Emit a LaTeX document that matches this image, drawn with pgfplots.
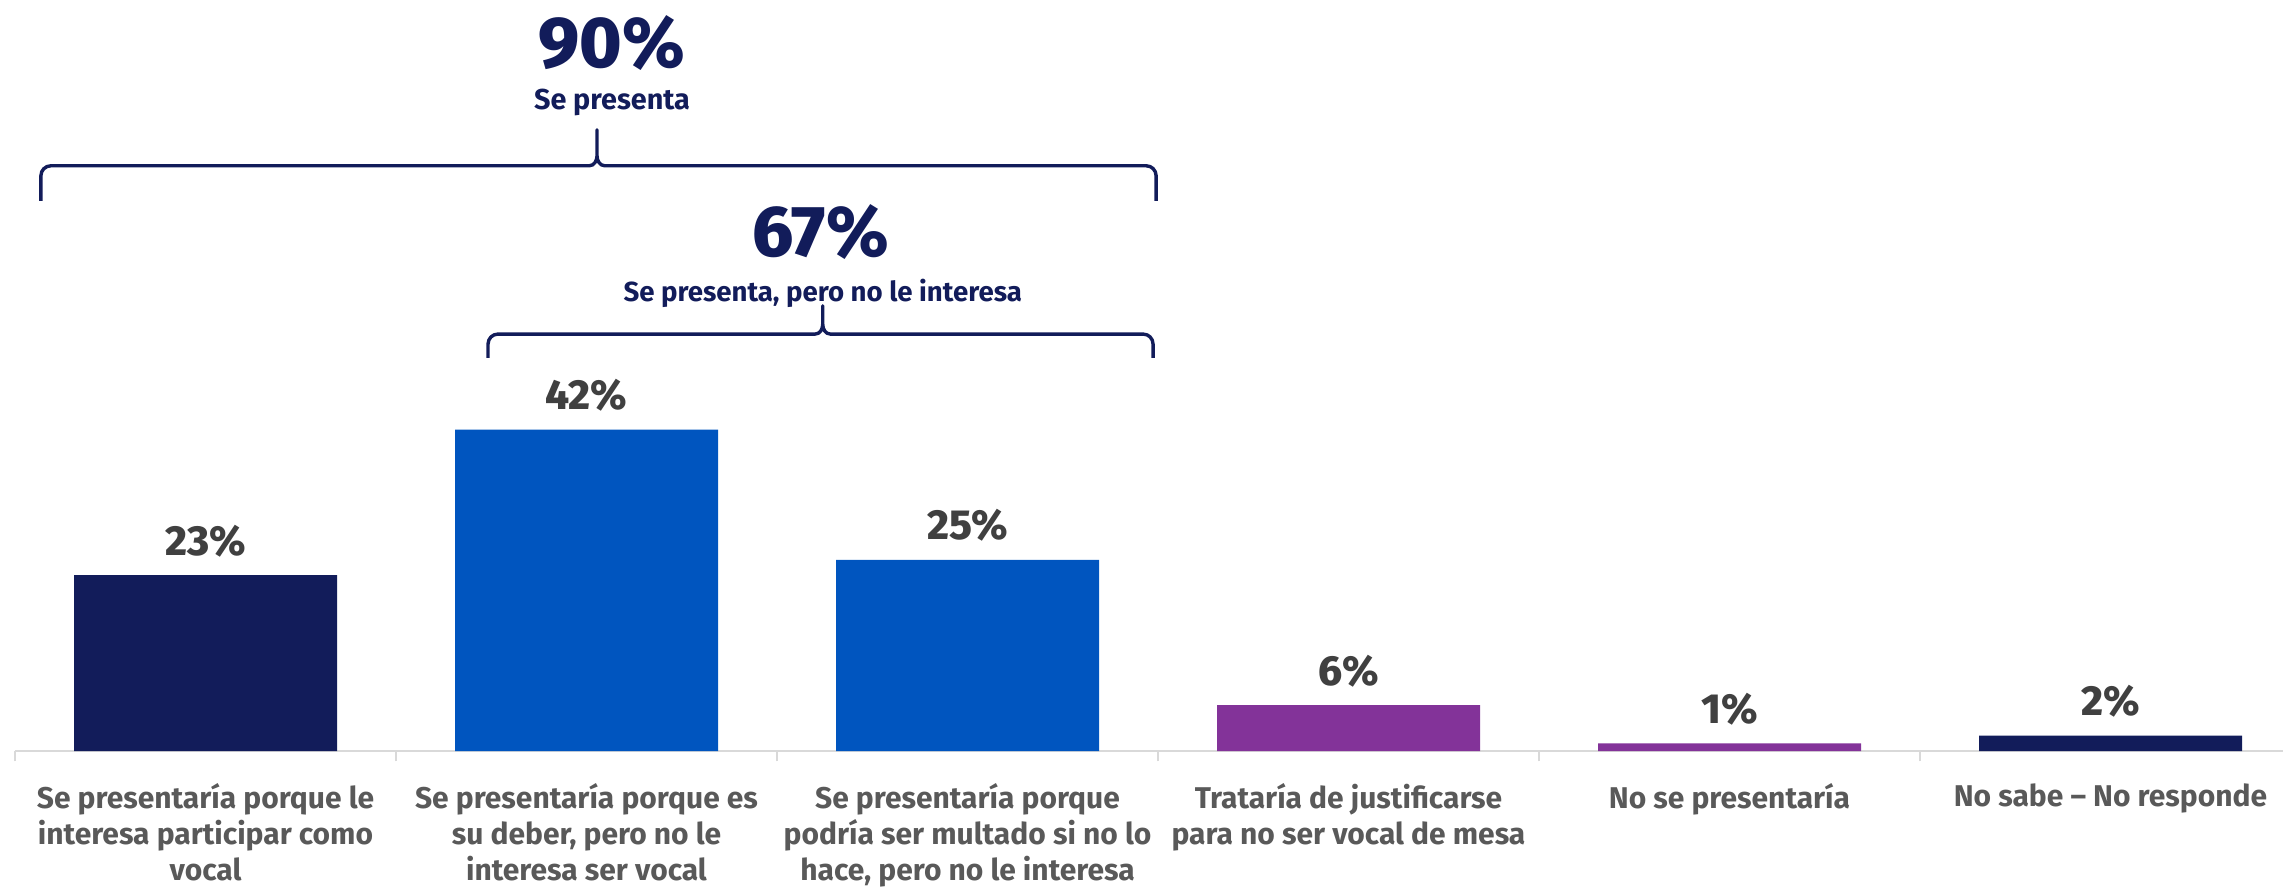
\documentclass[border=0pt]{standalone}
\usepackage{pgfplots}
\pgfplotsset{compat=1.18}
\usepackage{fontspec}
\setmainfont{Fira Sans}
\IfFontExistsTF{Fira Sans ExtraBold}
  {\newfontfamily\heavy{Fira Sans ExtraBold}}
  {\newcommand\heavy{\bfseries}}

\definecolor{navy}{HTML}{121C5A}
\definecolor{azul}{HTML}{0055BF}
\definecolor{morado}{HTML}{833399}
\definecolor{valgray}{HTML}{404040}
\definecolor{labgray}{HTML}{595959}
\definecolor{axgray}{HTML}{D9D9D9}

\begin{document}
\begin{tikzpicture}
\begin{axis}[
    x=95.25pt, y=1.9125pt,
    xmin=-0.5, xmax=5.4528, ymin=0, ymax=98.17,
    ybar, bar width=65.75pt, bar shift=0pt,
    axis x line=bottom, axis y line=none,
    x axis line style={draw=axgray, line width=0.6pt, -},
    xtick={0,...,5},
    xticklabels={
        {Se presentaría porque le\\interesa participar como\\vocal},
        {Se presentaría porque es\\su deber, pero no le\\interesa ser vocal},
        {Se presentaría porque\\podría ser multado si no lo\\hace, pero no le interesa},
        {Trataría de justificarse\\para no ser vocal de mesa},
        {No se presentaría},
        {No sabe – No responde}},
    minor xtick={-0.5,0.5,...,4.5},
    major tick length=0pt, minor tick length=2.6pt,
    tick align=outside,
    minor tick style={draw=axgray, line width=0.6pt},
    xticklabel style={font=\fontsize{7.5}{9}\selectfont\bfseries, text=labgray,
        align=center, anchor=north, yshift=-4.6pt},
    ytick=\empty,
    /pgf/number format/assume math mode=true,
    nodes near coords={\pgfmathprintnumber{\pgfplotspointmeta}\%},
    every node near coord/.append style={font=\fontsize{10.5}{12}\selectfont\heavy,
        text=valgray, anchor=base, yshift=5pt},
    clip=false,
]
\addplot[fill=navy, draw=none] coordinates {(0,23) (5,2)};
\addplot[fill=azul, draw=none] coordinates {(1,42) (2,25)};
\addplot[fill=morado, draw=none] coordinates {(3,6) (4,1)};

% llave superior: 90%
\draw[navy, line width=0.85pt, line join=round]
    (-0.432,71.9) -- (-0.432,75.2) to[out=90,in=180] (-0.406,76.5)
    -- (1.007,76.5) to[out=0,in=-90] (1.0276,77.8) -- (1.0276,81.2)
    -- (1.0276,77.8) to[out=-90,in=180] (1.048,76.5)
    -- (2.469,76.5) to[out=0,in=90] (2.495,75.2) -- (2.495,71.9);
\node[navy, anchor=base, font=\fontsize{18}{19}\selectfont\heavy] at (1.067,89.4) {90\%};
\node[navy, anchor=base, font=\fontsize{7.2}{9}\selectfont\bfseries] at (1.067,83.9) {Se presenta};

% llave inferior: 67%
\draw[navy, line width=0.85pt, line join=round]
    (0.7415,51.4) -- (0.7415,53.2) to[out=90,in=180] (0.7675,54.5)
    -- (1.600,54.5) to[out=0,in=-90] (1.620,55.8) -- (1.620,58.2)
    -- (1.620,55.8) to[out=-90,in=180] (1.640,54.5)
    -- (2.461,54.5) to[out=0,in=90] (2.487,53.2) -- (2.487,51.4);
\node[navy, anchor=base, font=\fontsize{18}{19}\selectfont\heavy] at (1.615,64.6) {67\%};
\node[navy, anchor=base, font=\fontsize{6.9}{9}\selectfont\bfseries] at (1.62,58.7) {Se presenta, pero no le interesa};

\coordinate (bbsw) at (-0.5394,-17.78);
\coordinate (bbne) at (5.4528,98.17);
\end{axis}
\pgfresetboundingbox
\useasboundingbox (bbsw) rectangle (bbne);
\end{tikzpicture}
\end{document}
